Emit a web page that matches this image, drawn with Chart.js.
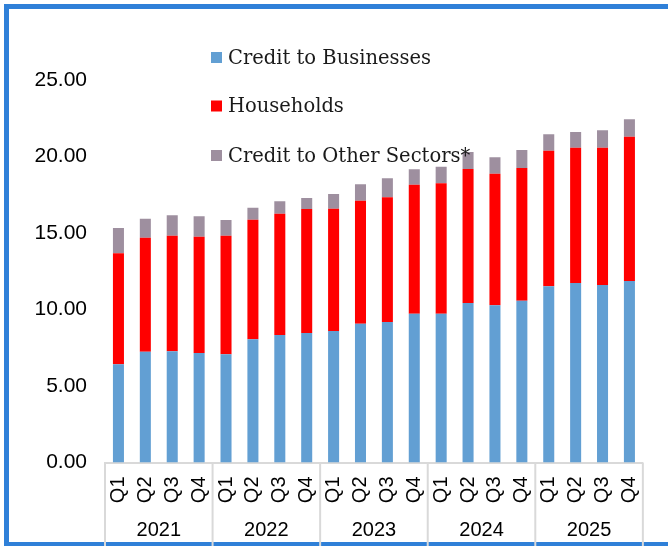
<!DOCTYPE html>
<html>
<head>
<meta charset="utf-8">
<script src="https://cdn.jsdelivr.net/npm/chart.js@4.4.1/dist/chart.umd.min.js"></script>
<style>
    html, body { margin: 0; padding: 0; background: #fff; overflow: hidden; }
    #wrap { position: relative; width: 668px; height: 546px; }
    #frame {
        position: absolute; left: 4px; top: 4px; width: 720px; height: 543px;
        border: 5px solid #2f80d8; box-sizing: border-box;
    }
    #credit { position: absolute; left: 0; top: 0; }
</style>
</head>
<body>
<div id="wrap">
    <div id="frame"></div>
    <canvas id="credit" width="668" height="546"></canvas>
</div>
<script>
const years = ['2021', '2022', '2023', '2024', '2025'];
const quarters = ['Q1', 'Q2', 'Q3', 'Q4'];
const yTicks = [0, 5, 10, 15, 20, 25];

const seriesNames = ['Credit to Businesses', 'Households', 'Credit to Other Sectors*'];

const businesses = [6.42, 7.24, 7.27, 7.16, 7.07, 8.05, 8.33, 8.46, 8.60, 9.07,
    9.18, 9.73, 9.73, 10.42, 10.27, 10.58, 11.52, 11.73, 11.60, 11.86];
const households = [7.25, 7.45, 7.55, 7.60, 7.75, 7.82, 7.93, 8.11, 7.99, 8.04,
    8.15, 8.43, 8.52, 8.76, 8.61, 8.67, 8.86, 8.85, 8.98, 9.43];
const otherSectors = [1.66, 1.24, 1.34, 1.33, 1.03, 0.78, 0.81, 0.72, 0.96, 1.07,
    1.25, 1.00, 1.08, 1.11, 1.07, 1.17, 1.07, 1.02, 1.13, 1.14];

const colors = ['#629fd3', '#ff0000', '#9e8f9f'];

// one category per quarter, years drawn underneath as groups
const labels = [];
years.forEach(y => quarters.forEach(q => labels.push(q)));

const axisGrey = '#d9d9d9';

// legend sits inside the plot, drawn over the bars
const legendInPlot = {
    id: 'legendInPlot',
    afterDatasetsDraw(chart) {
        const ctx = chart.ctx;
        ctx.save();
        ctx.font = '19.5px "DejaVu Serif"';
        ctx.textBaseline = 'middle';
        const rows = [57.5, 106, 155.5];
        chart.data.datasets.forEach((ds, i) => {
            ctx.fillStyle = ds.backgroundColor;
            ctx.fillRect(211, rows[i] - 5.5, 11, 11);
            ctx.fillStyle = '#1a1a1a';
            ctx.fillText(ds.label, 228, rows[i] + 1);
        });
        ctx.restore();
    }
};

// year groups with separators below the quarter labels
const yearGroups = {
    id: 'yearGroups',
    afterDraw(chart) {
        const ctx = chart.ctx;
        const x = chart.scales.x;
        const step = x.getPixelForValue(1) - x.getPixelForValue(0);
        const top = chart.chartArea.bottom;
        ctx.save();
        ctx.strokeStyle = axisGrey;
        ctx.lineWidth = 2;
        for (let g = 0; g <= years.length; g++) {
            const px = x.getPixelForValue(g * quarters.length) - step / 2;
            ctx.beginPath();
            ctx.moveTo(px, top);
            ctx.lineTo(px, chart.height);
            ctx.stroke();
        }
        ctx.fillStyle = '#000';
        ctx.font = '20px "Liberation Sans"';
        ctx.textAlign = 'center';
        ctx.textBaseline = 'middle';
        years.forEach((y, g) => {
            const a = x.getPixelForValue(g * quarters.length);
            const b = x.getPixelForValue(g * quarters.length + quarters.length - 1);
            ctx.fillText(y, (a + b) / 2, 530);
        });
        ctx.restore();
    }
};

const ctx = document.getElementById('credit').getContext('2d');

const creditChart = new Chart(ctx, {
    type: 'bar',
    data: {
        labels: labels,
        datasets: [
            { label: seriesNames[0], data: businesses, backgroundColor: colors[0] },
            { label: seriesNames[1], data: households, backgroundColor: colors[1] },
            { label: seriesNames[2], data: otherSectors, backgroundColor: colors[2] }
        ]
    },
    options: {
        responsive: false,
        animation: false,
        devicePixelRatio: 1,
        layout: { padding: { top: 80, right: 23, left: 0, bottom: 0 } },
        datasets: {
            bar: { categoryPercentage: 1, barPercentage: 0.41, borderWidth: 0 }
        },
        plugins: {
            legend: { display: false },
            tooltip: { enabled: false }
        },
        scales: {
            x: {
                stacked: true,
                grid: { display: false, drawTicks: false },
                border: { display: true, color: axisGrey, width: 2 },
                ticks: {
                    autoSkip: false,
                    minRotation: 90,
                    maxRotation: 90,
                    padding: 14,
                    color: '#000',
                    font: { family: 'Liberation Sans', size: 20 }
                },
                afterFit: s => { s.height = 83.5; }
            },
            y: {
                stacked: true,
                min: yTicks[0],
                max: yTicks[yTicks.length - 1],
                grid: { display: false, drawTicks: false },
                border: { display: false },
                afterBuildTicks: s => { s.ticks = yTicks.map(v => ({ value: v })); },
                ticks: {
                    padding: 18,
                    color: '#000',
                    font: { family: 'Liberation Sans', size: 21 },
                    callback: v => v.toFixed(2)
                },
                afterFit: s => { s.width = 105; }
            }
        }
    },
    plugins: [legendInPlot, yearGroups]
});
</script>
</body>
</html>
